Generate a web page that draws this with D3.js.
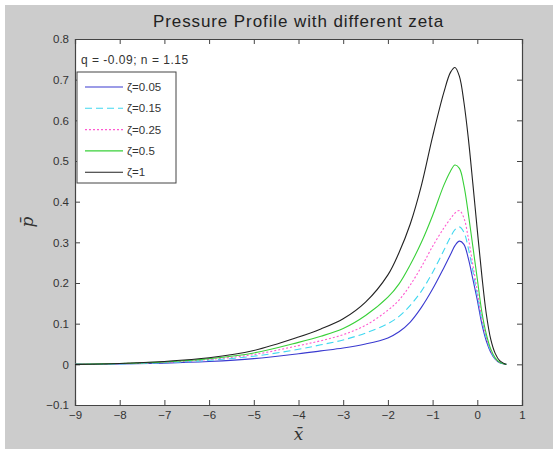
<!DOCTYPE html>
<html><head><meta charset="utf-8">
<script src="https://d3js.org/d3.v7.min.js"></script>
<style>html,body{margin:0;padding:0;background:#fff;}svg{display:block;}</style>
</head><body>
<script>
const xs = [-9, -8, -7, -6, -5, -4, -3.5, -3, -2.5, -2, -1.75, -1.5, -1.25, -1, -0.75, -0.6, -0.5, -0.4, -0.3, -0.2, -0.1, 0, 0.1, 0.2, 0.3, 0.4, 0.5, 0.6, 0.65];
const zeta005 = [0, 0.001, 0.003, 0.007, 0.014, 0.026, 0.033, 0.04, 0.05, 0.065, 0.08, 0.104, 0.14, 0.185, 0.237, 0.27, 0.292, 0.303, 0.295, 0.26, 0.21, 0.158, 0.1, 0.058, 0.03, 0.013, 0.004, 0.001, 0];
const zeta015 = [0, 0.001, 0.004, 0.01, 0.02, 0.037, 0.048, 0.06, 0.077, 0.1, 0.118, 0.145, 0.18, 0.226, 0.28, 0.313, 0.331, 0.338, 0.325, 0.285, 0.23, 0.17, 0.11, 0.065, 0.033, 0.014, 0.005, 0.001, 0];
const zeta025 = [0, 0.002, 0.005, 0.012, 0.024, 0.046, 0.058, 0.073, 0.096, 0.133, 0.158, 0.195, 0.24, 0.29, 0.335, 0.358, 0.372, 0.378, 0.36, 0.31, 0.245, 0.18, 0.115, 0.068, 0.035, 0.015, 0.005, 0.001, 0];
const zeta05 = [0, 0.002, 0.006, 0.014, 0.028, 0.054, 0.069, 0.088, 0.12, 0.165, 0.198, 0.245, 0.3, 0.366, 0.44, 0.475, 0.49, 0.482, 0.44, 0.37, 0.29, 0.21, 0.13, 0.075, 0.038, 0.016, 0.005, 0.001, 0];
const zeta1 = [0, 0.002, 0.007, 0.016, 0.034, 0.067, 0.087, 0.112, 0.153, 0.22, 0.275, 0.345, 0.44, 0.56, 0.668, 0.718, 0.73, 0.708, 0.645, 0.555, 0.445, 0.33, 0.22, 0.125, 0.062, 0.027, 0.009, 0.002, 0];
const seriesNames = ["\u03B6=0.05", "\u03B6=0.15", "\u03B6=0.25", "\u03B6=0.5", "\u03B6=1"];
const seriesValues = [zeta005, zeta015, zeta025, zeta05, zeta1];
const xTicks = [-9, -8, -7, -6, -5, -4, -3, -2, -1, 0, 1];
const yTicks = [-0.1, 0, 0.1, 0.2, 0.3, 0.4, 0.5, 0.6, 0.7, 0.8];
const titleText = "Pressure Profile with different zeta";
const noteText = "q = -0.09; n = 1.15";

const styles = [
  {color: "#3a3ad0", dash: null},
  {color: "#40d8f0", dash: "7,4"},
  {color: "#ff5ad0", dash: "2,2"},
  {color: "#38d038", dash: null},
  {color: "#222222", dash: null}
];

const W = 553, H = 449;
const L = 75, R = 522, T = 39, B = 405;
const svg = d3.select("body").append("svg").attr("width", W).attr("height", H);
svg.append("rect").attr("x", 5).attr("y", 5).attr("width", W - 5).attr("height", H - 5).attr("fill", "#cccccc");

const x = d3.scaleLinear().domain([-9, 1]).range([L, R]);
const y = d3.scaleLinear().domain([-0.1, 0.8]).range([B, T]);

svg.append("rect").attr("x", L).attr("y", T).attr("width", R - L).attr("height", B - T).attr("fill", "#fff");

const font = "'Liberation Sans', Arial, sans-serif";
const axColor = "#444";

const gB = svg.append("g").attr("transform", `translate(0,${B})`)
  .call(d3.axisBottom(x).tickValues(xTicks).tickSize(-5).tickPadding(6).tickFormat(d3.format("d")));
const gT = svg.append("g").attr("transform", `translate(0,${T})`)
  .call(d3.axisTop(x).tickValues(xTicks).tickSize(-5).tickFormat(""));
const gL = svg.append("g").attr("transform", `translate(${L},0)`)
  .call(d3.axisLeft(y).tickValues(yTicks).tickSize(-5).tickPadding(6).tickFormat(d => d3.format("")(+d.toFixed(1))));
const gR = svg.append("g").attr("transform", `translate(${R},0)`)
  .call(d3.axisRight(y).tickValues(yTicks).tickSize(-5).tickFormat(""));
[gB, gT, gL, gR].forEach(g => {
  g.select(".domain").attr("stroke", axColor).attr("stroke-width", 1.2);
  g.selectAll(".tick line").attr("stroke", axColor);
  g.selectAll("text").attr("fill", "#333").style("font-family", font).style("font-size", "11.5px");
});

const line = d3.line().x((d, i) => x(xs[i])).y(d => y(Math.max(0, d))).curve(d3.curveCatmullRom.alpha(0.5));
const plot = svg.append("g");
seriesValues.forEach((vals, k) => {
  plot.append("path").datum(vals).attr("d", line)
    .attr("fill", "none").attr("stroke", styles[k].color).attr("stroke-width", 1.1)
    .attr("stroke-dasharray", styles[k].dash);
});

svg.append("text").attr("x", (L + R) / 2).attr("y", 27).attr("text-anchor", "middle")
  .style("font-family", font).style("font-size", "17px").style("letter-spacing", "0.9px")
  .attr("fill", "#222").text(titleText);

svg.append("text").attr("x", 81).attr("y", 64).style("font-family", font).style("font-size", "12px")
  .style("letter-spacing", "0.5px").attr("fill", "#333").text(noteText);

const lg = svg.append("g");
lg.append("rect").attr("x", 77).attr("y", 72).attr("width", 99).attr("height", 111)
  .attr("fill", "#fff").attr("stroke", axColor).attr("stroke-width", 1);
seriesNames.forEach((name, k) => {
  const yy = 87 + k * 21.3;
  lg.append("line").attr("x1", 85).attr("x2", 123).attr("y1", yy).attr("y2", yy)
    .attr("stroke", styles[k].color).attr("stroke-width", 1.1).attr("stroke-dasharray", styles[k].dash);
  lg.append("text").attr("x", 127).attr("y", yy + 4).style("font-family", font).style("font-size", "11.5px")
    .attr("fill", "#333").text(name);
});

svg.append("text").attr("x", (L + R) / 2).attr("y", 440).attr("text-anchor", "middle")
  .style("font-family", "'DejaVu Serif', serif").style("font-style", "italic").style("font-size", "17px")
  .attr("fill", "#333").text("x\u0304");
svg.append("text").attr("transform", `translate(33,222) rotate(-90)`).attr("text-anchor", "middle")
  .style("font-family", "'DejaVu Serif', serif").style("font-style", "italic").style("font-size", "17px")
  .attr("fill", "#333").text("p\u0304");
</script>
</body></html>
